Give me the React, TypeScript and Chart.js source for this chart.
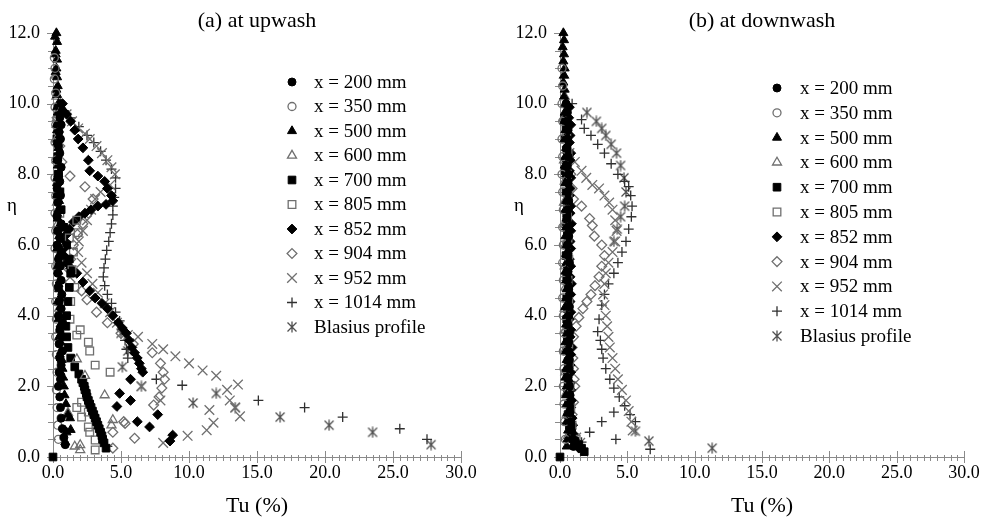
import React, { useEffect, useRef } from 'react';
import { Chart, registerables } from 'chart.js';

Chart.register(...registerables);

type Pt = [number, number]; // [Tu (%), eta]

// ---------- labels ----------
const seriesLabels = [
  'x = 200 mm', 'x = 350 mm', 'x = 500 mm', 'x = 600 mm', 'x = 700 mm',
  'x = 805 mm', 'x = 852 mm', 'x = 904 mm', 'x = 952 mm', 'x = 1014 mm', 'Blasius profile',
];
const panelTitles = ['(a) at upwash', '(b) at downwash'];
const xAxisTitle = 'Tu (%)';
const yAxisTitle = 'η';
const xMin = 0, xMax = 30, xStep = 5;
const yMin = 0, yMax = 12, yStep = 2;

// ---------- (a) upwash ----------
const up200: Pt[] = [[0.6,10.0],[0.7,9.8],[0.5,9.6],[0.6,9.4],[0.45,9.2],[0.55,9.0],[0.4,8.8],[0.5,8.6],[0.35,8.4],[0.6,8.2],[0.4,8.0],[0.5,7.8],[0.3,7.6],[0.55,7.4],[0.35,7.2],[0.5,7.0],[0.3,6.8],[0.6,6.6],[0.35,6.4],[0.5,6.2],[0.3,6.0],[0.6,5.8],[0.4,5.6],[0.55,5.4],[0.35,5.2],[0.6,5.0],[0.4,4.8],[0.65,4.6],[0.45,4.4],[0.6,4.2],[0.4,4.0],[0.7,3.8],[0.5,3.6],[0.65,3.4],[0.45,3.2],[0.7,3.0],[0.5,2.8],[0.6,2.6],[0.45,2.4],[0.55,2.2],[0.4,2.0],[0.5,1.7],[0.55,1.4],[0.6,1.1],[0.7,0.8],[0.8,0.55],[0.9,0.35]];
const up350: Pt[] = [[0.1,11.3],[0.15,11.0],[0.1,10.7],[0.2,10.3],[0.15,9.9],[0.2,9.4],[0.15,8.9],[0.2,8.4],[0.15,7.9],[0.2,7.4],[0.15,6.9],[0.2,6.4],[0.15,5.9],[0.2,5.4],[0.25,4.9],[0.2,4.4],[0.25,3.9],[0.2,3.4],[0.25,2.9],[0.3,2.4],[0.25,1.9],[0.3,1.4],[0.35,0.9],[0.4,0.5]];
const up500: Pt[] = [[0.25,12.0],[0.15,11.9],[0.3,11.75],[0.2,11.5],[0.2,11.4],[0.3,11.25],[0.25,11.0],[0.2,10.9],[0.3,10.75],[0.35,10.5],[0.25,10.4],[0.3,10.25],[0.4,10.0],[0.3,9.9],[0.35,9.75],[0.4,9.5],[0.25,9.4],[0.3,9.25],[0.35,9.0],[0.3,8.9],[0.4,8.75],[0.3,8.5],[0.25,8.4],[0.35,8.25],[0.4,8.0],[0.3,7.9],[0.3,7.75],[0.35,7.5],[0.25,7.4],[0.45,7.25],[0.4,7.0],[0.3,6.9],[0.35,6.75],[0.4,6.5],[0.35,6.4],[0.45,6.25],[0.4,6.0],[0.3,5.9],[0.5,5.75],[0.45,5.5],[0.35,5.4],[0.4,5.25],[0.5,5.0],[0.4,4.9],[0.45,4.75],[0.5,4.5],[0.35,4.4],[0.55,4.25],[0.5,4.0],[0.4,3.9],[0.55,3.75],[0.6,3.5],[0.45,3.4],[0.55,3.25],[0.6,3.0],[0.5,2.9],[0.65,2.75],[0.7,2.5],[0.55,2.4],[0.75,2.25],[0.8,2.0],[0.85,1.75],[0.95,1.5],[1.1,1.2],[1.25,1.1],[1.3,0.77],[1.0,0.7],[0.9,0.42]];
const up600: Pt[] = [[0.2,10.8],[0.25,10.2],[0.3,9.6],[0.25,9.0],[0.3,8.4],[0.35,7.8],[0.3,7.2],[0.35,6.6],[0.4,6.0],[0.35,5.4],[0.4,4.8],[0.45,4.2],[0.5,3.6],[1.75,2.77],[2.35,2.3],[1.1,1.25],[3.8,1.75],[4.4,1.05],[4.3,0.9],[2.0,0.34],[2.0,0.2],[1.6,0.3]];
const up700: Pt[] = [[0.3,9.0],[0.35,8.5],[0.4,8.0],[0.5,7.5],[0.6,7.0],[0.8,6.5],[1.0,6.0],[1.2,5.6],[1.3,5.2],[1.2,4.8],[1.1,4.4],[1.0,4.0],[0.95,3.7],[1.0,3.4],[1.1,3.1],[1.3,2.8],[1.6,2.55],[1.9,2.35],[2.1,2.2],[2.2,2.1],[2.3,2.0],[2.35,1.9],[2.45,1.8],[2.5,1.7],[2.6,1.6],[2.7,1.5],[2.8,1.4],[2.9,1.3],[3.0,1.2],[3.1,1.1],[3.2,1.0],[3.3,0.9],[3.4,0.8],[3.5,0.7],[3.6,0.6],[3.65,0.5],[3.75,0.4],[3.9,0.25],[0,0]];
const up805: Pt[] = [[0.3,9.0],[0.4,8.0],[0.5,7.5],[0.5,6.9],[1.75,6.7],[1.85,6.35],[1.2,6.2],[1.5,5.8],[1.4,5.3],[1.6,4.8],[1.3,4.4],[1.25,3.9],[2.0,3.6],[1.75,3.45],[2.6,3.25],[2.7,3.0],[3.1,2.6],[4.2,2.4],[2.1,1.55],[1.75,1.4],[2.6,1.27],[2.1,1.13],[2.6,0.85],[2.7,0.7],[3.1,0.48],[3.1,0.2]];
const up852: Pt[] = [[0.7,10.0],[1.0,9.7],[1.3,9.5],[1.6,9.25],[1.85,9.0],[2.2,8.75],[2.6,8.4],[2.7,8.1],[3.3,7.95],[3.8,7.8],[4.0,7.6],[4.3,7.4],[4.4,7.25],[3.9,7.15],[3.3,7.1],[2.8,7.0],[2.35,6.9],[1.9,6.8],[1.5,6.65],[1.2,6.45],[1.0,6.3],[0.9,6.1],[0.8,5.9],[0.8,5.7],[1.0,5.5],[1.3,5.35],[1.75,5.2],[2.2,4.95],[2.7,4.7],[3.1,4.5],[3.6,4.35],[4.0,4.2],[4.4,4.0],[4.8,3.8],[5.1,3.65],[5.4,3.5],[5.6,3.3],[5.8,3.1],[6.0,2.95],[6.2,2.8],[6.35,2.65],[6.5,2.5],[6.6,2.4],[5.7,2.2],[4.9,1.8],[5.7,1.6],[4.7,1.43],[7.7,1.2],[6.2,1.0],[7.1,0.85],[8.8,0.62],[8.6,0.45]];
const up904: Pt[] = [[0.3,9.6],[0.4,9.2],[0.5,8.8],[0.65,8.35],[1.25,7.95],[2.35,7.65],[2.95,7.3],[2.6,6.9],[2.2,6.6],[1.8,6.3],[1.5,6.0],[1.3,5.6],[1.2,5.3],[1.25,4.95],[2.1,4.7],[2.5,4.45],[3.2,4.1],[4.0,3.8],[5.0,3.5],[5.9,3.2],[7.3,2.95],[7.9,2.65],[8.1,2.4],[8.2,2.2],[8.0,1.95],[7.8,1.7],[7.4,1.47],[5.3,0.95],[5.2,1.0],[4.4,0.7],[6.0,0.53],[4.4,0.25]];
const up952: Pt[] = [[0.5,9.8],[1.0,9.7],[1.4,9.5],[1.85,9.3],[2.35,9.15],[2.7,9.0],[3.2,8.8],[3.6,8.6],[4.0,8.4],[4.3,8.2],[4.55,8.0],[4.2,7.7],[3.5,7.5],[3.1,7.3],[2.8,7.0],[2.5,6.7],[2.2,6.4],[1.9,6.1],[1.85,5.8],[2.1,5.5],[2.5,5.2],[2.9,4.9],[3.3,4.65],[3.8,4.35],[4.2,4.1],[4.7,3.8],[5.5,3.45],[6.25,3.4],[7.3,3.2],[8.1,3.05],[9.0,2.85],[10.0,2.65],[11.0,2.45],[12.0,2.3],[13.6,2.05],[12.8,1.9],[13.0,1.6],[13.4,1.4],[13.75,1.15],[11.5,1.33],[11.8,0.97],[11.3,0.76],[9.9,0.6],[8.1,0.4],[6.5,2.0],[7.9,1.6]];
const up1014: Pt[] = [[0.8,9.8],[1.3,9.6],[1.9,9.35],[2.5,9.1],[3.0,8.9],[3.5,8.65],[3.9,8.4],[4.3,8.15],[4.6,7.9],[4.6,7.6],[4.5,7.35],[4.4,7.1],[4.4,6.85],[4.3,6.6],[4.2,6.35],[4.1,6.1],[3.95,5.85],[3.85,5.6],[3.75,5.35],[3.7,5.1],[3.8,4.85],[4.0,4.6],[4.3,4.35],[4.6,4.1],[4.9,3.85],[5.1,3.6],[5.3,3.3],[5.4,3.05],[5.5,2.8],[7.6,2.2],[9.5,2.03],[15.1,1.6],[18.5,1.4],[21.3,1.13],[25.5,0.8],[27.5,0.5],[4.0,0.3]];
const upBlasius: Pt[] = [[27.8,0.35],[23.5,0.7],[20.3,0.9],[16.7,1.13],[13.4,1.4],[12.0,1.8],[10.3,1.53],[6.5,2.0],[5.1,2.55],[5.5,3.0],[5.0,3.5]];

// ---------- (b) downwash ----------
const dn200: Pt[] = [[0.45,10.0],[0.55,9.75],[0.5,9.5],[0.6,9.25],[0.55,9.0],[0.5,8.75],[0.6,8.5],[0.55,8.25],[0.65,8.0],[0.6,7.75],[0.55,7.5],[0.65,7.25],[0.6,7.0],[0.5,6.75],[0.6,6.5],[0.65,6.25],[0.55,6.0],[0.6,5.75],[0.7,5.5],[0.6,5.25],[0.55,5.0],[0.65,4.75],[0.6,4.5],[0.7,4.25],[0.65,4.0],[0.6,3.75],[0.7,3.5],[0.65,3.25],[0.6,3.0],[0.7,2.75],[0.65,2.5],[0.6,2.25],[0.7,2.0],[0.75,1.75],[0.7,1.5],[0.75,1.25],[0.8,1.0],[0.85,0.75],[0.9,0.5],[1.0,0.3]];
const dn350: Pt[] = [[0.15,11.0],[0.2,10.5],[0.15,10.0],[0.2,9.5],[0.15,9.0],[0.2,8.5],[0.15,8.0],[0.2,7.5],[0.25,7.0],[0.2,6.5],[0.25,6.0],[0.2,5.5],[0.25,5.0],[0.2,4.5],[0.25,4.0],[0.3,3.5],[0.25,3.0],[0.3,2.5],[0.25,2.0],[0.3,1.5],[0.35,1.0],[0.4,0.5]];
const dn500: Pt[] = [[0.25,12.0],[0.3,11.8],[0.2,11.6],[0.3,11.4],[0.25,11.2],[0.35,11.0],[0.3,10.8],[0.25,10.6],[0.35,10.4],[0.3,10.2],[0.4,10.0],[0.35,9.75],[0.3,9.5],[0.4,9.25],[0.35,9.0],[0.45,8.75],[0.4,8.5],[0.35,8.25],[0.45,8.0],[0.4,7.75],[0.5,7.5],[0.45,7.25],[0.4,7.0],[0.5,6.75],[0.45,6.5],[0.4,6.25],[0.5,6.0],[0.45,5.75],[0.5,5.5],[0.4,5.25],[0.45,5.0],[0.5,4.75],[0.45,4.5],[0.4,4.25],[0.5,4.0],[0.45,3.75],[0.5,3.5],[0.4,3.25],[0.45,3.0],[0.5,2.75],[0.45,2.5],[0.4,2.25],[0.5,2.0],[0.45,1.75],[0.5,1.5],[0.55,1.25],[0.5,1.0],[0.6,0.75],[0.55,0.5],[0.5,0.3]];
const dn600: Pt[] = [[0.3,10.8],[0.35,10.2],[0.3,9.6],[0.35,9.0],[0.3,8.4],[0.35,7.8],[0.3,7.2],[0.35,6.6],[0.4,6.0],[0.35,5.4],[0.4,4.8],[0.35,4.2],[0.4,3.6],[0.35,3.0],[0.4,2.4],[0.45,1.8],[0.5,1.2],[0.6,0.6]];
const dn700: Pt[] = [[0.35,9.6],[0.45,9.3],[0.4,9.0],[0.5,8.7],[0.45,8.4],[0.4,8.1],[0.5,7.8],[0.45,7.5],[0.55,7.2],[0.5,6.9],[0.45,6.6],[0.55,6.3],[0.5,6.0],[0.45,5.7],[0.55,5.4],[0.5,5.1],[0.6,4.8],[0.5,4.5],[0.55,4.2],[0.5,3.9],[0.6,3.6],[0.55,3.3],[0.5,3.0],[0.6,2.7],[0.55,2.4],[0.6,2.1],[0.55,1.8],[0.65,1.5],[0.6,1.2],[0.7,0.9],[0.85,0.65],[1.1,0.45],[1.4,0.35],[1.6,0.25],[1.8,0.15],[0,0]];
const dn805: Pt[] = [[0.5,9.2],[0.6,8.6],[0.55,8.0],[0.6,7.4],[0.55,6.8],[0.6,6.2],[0.65,5.6],[0.6,5.0],[0.65,4.4],[0.6,3.8],[0.65,3.2],[0.7,2.6],[0.75,2.0],[0.8,1.4],[0.9,0.9],[1.2,0.5]];
const dn852: Pt[] = [[0.7,9.9],[0.65,9.6],[0.8,9.4],[0.75,9.1],[0.7,8.9],[0.8,8.6],[0.75,8.4],[0.7,8.1],[0.8,7.9],[0.75,7.6],[0.7,7.4],[0.8,7.1],[0.75,6.9],[0.85,6.6],[0.8,6.4],[0.75,6.1],[0.8,5.9],[0.7,5.6],[0.8,5.4],[0.75,5.1],[0.85,4.9],[0.8,4.6],[0.75,4.4],[0.8,4.1],[0.7,3.9],[0.8,3.6],[0.75,3.4],[0.85,3.1],[0.8,2.9],[0.75,2.6],[0.8,2.4],[0.75,2.1],[0.8,1.9],[0.85,1.6],[0.8,1.4],[0.9,1.1],[0.95,0.9],[1.0,0.65],[1.2,0.45],[1.4,0.25]];
const dn904: Pt[] = [[0.5,9.0],[0.6,8.6],[0.8,8.0],[0.9,7.6],[1.0,7.3],[1.6,7.1],[2.2,6.75],[2.4,6.55],[2.55,6.25],[3.1,6.0],[3.3,5.7],[3.1,5.4],[2.9,5.1],[2.6,4.85],[2.3,4.6],[2.0,4.4],[1.7,4.2],[1.4,3.95],[1.2,3.7],[1.0,3.4],[0.9,3.1],[0.95,2.8],[1.0,2.5],[1.05,2.2],[1.1,2.0],[1.0,1.55],[0.9,1.2],[0.8,0.8]];
const dn952: Pt[] = [[0.5,8.9],[0.7,8.6],[1.1,8.35],[1.6,8.1],[1.95,7.9],[2.4,7.7],[2.9,7.6],[3.3,7.4],[3.65,7.2],[3.9,7.0],[4.1,6.7],[4.2,6.4],[4.1,6.1],[3.9,5.8],[3.6,5.5],[3.4,5.2],[3.3,4.9],[3.2,4.6],[3.3,4.3],[3.4,4.0],[3.5,3.7],[3.6,3.4],[3.7,3.1],[3.9,2.8],[4.1,2.5],[4.3,2.2],[4.6,1.9],[4.9,1.6],[5.1,1.3],[5.3,1.0],[5.4,0.75],[1.5,0.4],[1.2,0.55]];
const dn1014: Pt[] = [[0.9,10.0],[1.6,9.55],[1.8,9.3],[2.3,9.1],[2.8,8.85],[3.3,8.6],[3.8,8.3],[4.3,8.0],[4.8,7.8],[5.1,7.65],[5.25,7.4],[5.35,7.1],[5.3,6.8],[5.1,6.45],[4.9,6.1],[4.6,5.8],[4.3,5.5],[4.0,5.2],[3.6,4.9],[3.3,4.6],[3.1,4.3],[2.9,3.9],[2.8,3.55],[3.0,3.3],[3.1,3.05],[3.2,2.8],[3.4,2.5],[3.7,2.2],[4.0,1.95],[4.4,1.7],[4.8,1.45],[5.2,1.2],[5.6,1.0],[4.0,1.27],[3.1,1.0],[2.2,0.7],[1.6,0.42],[4.15,0.5],[6.7,0.22]];
const dnBlasius: Pt[] = [[2.0,9.75],[2.7,9.5],[3.1,9.3],[3.4,9.1],[3.8,8.85],[4.2,8.6],[4.5,8.25],[4.75,7.9],[4.9,7.5],[4.8,7.1],[4.5,6.8],[4.25,6.45],[4.0,6.1],[5.6,0.73],[6.6,0.45],[11.3,0.25]];

const upwashSeries = [up200, up350, up500, up600, up700, up805, up852, up904, up952, up1014, upBlasius];
const downwashSeries = [dn200, dn350, dn500, dn600, dn700, dn805, dn852, dn904, dn952, dn1014, dnBlasius];

// ---------- styles ----------
const SERIF = '"Liberation Serif", "Times New Roman", "DejaVu Serif", serif';
const GRAY = '#6f6f6f';
const AXIS_GRAY = '#8a8a8a';
const STAR_COLOR = '#505050';
type Shape = 'circle' | 'triangle' | 'rect' | 'rectRot' | 'cross' | 'crossRot' | 'star';
interface Sty { shape: Shape; r: number; fill: string; stroke: string; lw: number; }
const STYLES: Sty[] = [
  { shape: 'circle', r: 4, fill: '#000', stroke: '#000', lw: 1 },
  { shape: 'circle', r: 4, fill: 'rgba(255,255,255,0)', stroke: GRAY, lw: 1.3 },
  { shape: 'triangle', r: 5.2, fill: '#000', stroke: '#000', lw: 1 },
  { shape: 'triangle', r: 5.2, fill: 'rgba(255,255,255,0)', stroke: GRAY, lw: 1.3 },
  { shape: 'rect', r: 5.4, fill: '#000', stroke: '#000', lw: 1 },
  { shape: 'rect', r: 5.4, fill: 'rgba(255,255,255,0)', stroke: GRAY, lw: 1.3 },
  { shape: 'rectRot', r: 4.9, fill: '#000', stroke: '#000', lw: 1 },
  { shape: 'rectRot', r: 4.9, fill: 'rgba(255,255,255,0)', stroke: GRAY, lw: 1.3 },
  { shape: 'crossRot', r: 6.8, fill: GRAY, stroke: GRAY, lw: 1.3 },
  { shape: 'cross', r: 5, fill: '#303030', stroke: '#303030', lw: 1.3 },
  { shape: 'star', r: 6, fill: STAR_COLOR, stroke: STAR_COLOR, lw: 1.3 },
];
const TICK_FONT = 18;
const TITLE_FONT = 22;
const LEGEND_FONT = 19;

function makeStar(color: string): HTMLCanvasElement {
  const c = document.createElement('canvas');
  c.width = 12; c.height = 12;
  const g = c.getContext('2d')!;
  g.strokeStyle = color; g.lineWidth = 1.3;
  g.beginPath();
  g.moveTo(1.5, 1.5); g.lineTo(10.5, 10.5);
  g.moveTo(10.5, 1.5); g.lineTo(1.5, 10.5);
  g.moveTo(6, 0.5); g.lineTo(6, 11.5);
  g.stroke();
  return c;
}

function drawMarker(ctx: CanvasRenderingContext2D, s: Sty, x: number, y: number, star: HTMLCanvasElement) {
  const r = s.r;
  ctx.save();
  ctx.fillStyle = s.fill; ctx.strokeStyle = s.stroke; ctx.lineWidth = s.lw;
  ctx.beginPath();
  switch (s.shape) {
    case 'circle': ctx.arc(x, y, r, 0, Math.PI * 2); break;
    case 'triangle': {
      const a = (2 * Math.PI) / 3;
      ctx.moveTo(x, y - r);
      ctx.lineTo(x + Math.sin(a) * r, y - Math.cos(a) * r);
      ctx.lineTo(x + Math.sin(2 * a) * r, y - Math.cos(2 * a) * r);
      ctx.closePath(); break;
    }
    case 'rect': { const h = Math.SQRT1_2 * r; ctx.rect(x - h, y - h, 2 * h, 2 * h); break; }
    case 'rectRot': ctx.moveTo(x, y - r); ctx.lineTo(x + r, y); ctx.lineTo(x, y + r); ctx.lineTo(x - r, y); ctx.closePath(); break;
    case 'cross': ctx.moveTo(x - r, y); ctx.lineTo(x + r, y); ctx.moveTo(x, y - r); ctx.lineTo(x, y + r); break;
    case 'crossRot': { const h = Math.SQRT1_2 * r; ctx.moveTo(x - h, y - h); ctx.lineTo(x + h, y + h); ctx.moveTo(x + h, y - h); ctx.lineTo(x - h, y + h); break; }
    case 'star': ctx.drawImage(star, Math.round(x - 6), Math.round(y - 6)); ctx.restore(); return;
  }
  if (s.shape !== 'cross' && s.shape !== 'crossRot') ctx.fill();
  ctx.stroke();
  ctx.restore();
}

interface PanelProps {
  title: string;
  series: Pt[][];
  left: number;
  width: number;
  axisWidth: number;
  padRight: number;
  legendX: number;
  legendTextX: number;
  legendY: number;
  legendGap: number;
}

function Panel(p: PanelProps) {
  const ref = useRef<HTMLCanvasElement>(null);
  useEffect(() => {
    const star = makeStar(STAR_COLOR);
    const tickPlugin = {
      id: 'crossTicks',
      beforeDatasetsDraw(chart: any) {
        const { ctx, scales } = chart;
        const xs = scales.x, ys = scales.y;
        const base = ys.getPixelForValue(yMin);
        const axisX = xs.getPixelForValue(xMin);
        ctx.save();
        ctx.strokeStyle = AXIS_GRAY; ctx.lineWidth = 1;
        ctx.beginPath();
        for (let v = xMin; v <= xMax + 1e-9; v += 0.5) {
          const px = Math.round(xs.getPixelForValue(v)) + 0.5;
          const major = Math.abs(v / xStep - Math.round(v / xStep)) < 1e-6;
          ctx.moveTo(px, base - (major ? 6 : 2));
          ctx.lineTo(px, base + (major ? 6 : 4));
        }
        for (let v = yMin; v <= yMax + 1e-9; v += 0.5) {
          const py = Math.round(ys.getPixelForValue(v)) + 0.5;
          const major = Math.abs(v / yStep - Math.round(v / yStep)) < 1e-6;
          ctx.moveTo(axisX - (major ? 6 : 5), py);
          ctx.lineTo(axisX + (major ? 6 : 3), py);
        }
        ctx.stroke();
        ctx.restore();
      },
      afterDraw(chart: any) {
        const { ctx, chartArea } = chart;
        ctx.save();
        ctx.fillStyle = '#000';
        ctx.font = `19px ${SERIF}`;
        ctx.textAlign = 'center';
        ctx.textBaseline = 'middle';
        ctx.fillText(yAxisTitle, chartArea.left - 41, chartArea.top + 173);
        ctx.textAlign = 'left';
        seriesLabels.forEach((lab, i) => {
          const y = p.legendY + i * p.legendGap;
          drawMarker(ctx, STYLES[i], p.legendX, y, star);
          ctx.fillStyle = '#000';
          ctx.font = `${LEGEND_FONT}px ${SERIF}`;
          ctx.fillText(lab, p.legendTextX, y + 1);
        });
        ctx.restore();
      },
    };

    const chart = new Chart(ref.current!, {
      type: 'scatter',
      data: {
        datasets: p.series.map((pts, i) => ({
          label: seriesLabels[i],
          data: pts.map(([x, y]) => ({ x, y })),
          pointStyle: (STYLES[i].shape === 'star' ? star : STYLES[i].shape) as any,
          pointRadius: STYLES[i].r,
          pointHoverRadius: STYLES[i].r,
          backgroundColor: STYLES[i].fill,
          borderColor: STYLES[i].stroke,
          pointBorderWidth: STYLES[i].lw,
          borderWidth: STYLES[i].lw,
          showLine: false,
          clip: false as any,
        })),
      },
      options: {
        animation: false,
        responsive: false,
        devicePixelRatio: 1,
        events: [],
        layout: { padding: { left: 0, right: p.padRight, top: 0, bottom: 0 } },
        plugins: {
          legend: { display: false },
          tooltip: { enabled: false },
          title: {
            display: true,
            text: p.title,
            color: '#000',
            font: { family: SERIF, size: TITLE_FONT, weight: 'normal' as any, lineHeight: 1.1 },
            padding: { top: 8.8, bottom: 0 },
            fullSize: false,
          } as any,
        },
        scales: {
          x: {
            type: 'linear',
            min: xMin, max: xMax,
            ticks: {
              stepSize: xStep,
              autoSkip: false,
              maxRotation: 0,
              padding: 5,
              color: '#000',
              font: { family: SERIF, size: TICK_FONT },
              callback: (v: any) => Number(v).toFixed(1),
            },
            grid: { display: false, drawTicks: false },
            border: { display: true, color: AXIS_GRAY, width: 1 },
            title: {
              display: true,
              text: xAxisTitle,
              color: '#000',
              font: { family: SERIF, size: TITLE_FONT, lineHeight: 1.2 },
              padding: { top: 0, bottom: 0 },
            },
            afterFit: (s: any) => { s.height = 62; },
          },
          y: {
            type: 'linear',
            min: yMin, max: yMax,
            ticks: {
              stepSize: yStep,
              autoSkip: false,
              padding: 13,
              color: '#000',
              font: { family: SERIF, size: TICK_FONT },
              callback: (v: any) => Number(v).toFixed(1),
            },
            grid: { display: false, drawTicks: false },
            border: { display: true, color: AXIS_GRAY, width: 1 },
            title: { display: false },
            afterFit: (s: any) => { s.width = p.axisWidth; },
          },
        },
      },
      plugins: [tickPlugin],
    } as any);
    return () => chart.destroy();
  }, []);
  return (
    <canvas
      ref={ref}
      width={p.width}
      height={519}
      style={{ position: 'absolute', left: p.left, top: 0, width: p.width, height: 519 }}
    />
  );
}

export default function App() {
  return (
    <div style={{ position: 'absolute', left: 0, top: 0, width: 989, height: 519, background: '#fff', overflow: 'hidden' }}>
      <Panel title={panelTitles[0]} series={upwashSeries} left={0} width={494} axisWidth={53} padRight={33}
        legendX={292} legendTextX={314} legendY={82} legendGap={24.5} />
      <Panel title={panelTitles[1]} series={downwashSeries} left={494} width={495} axisWidth={66} padRight={25}
        legendX={283} legendTextX={306} legendY={88} legendGap={24.8} />
    </div>
  );
}
